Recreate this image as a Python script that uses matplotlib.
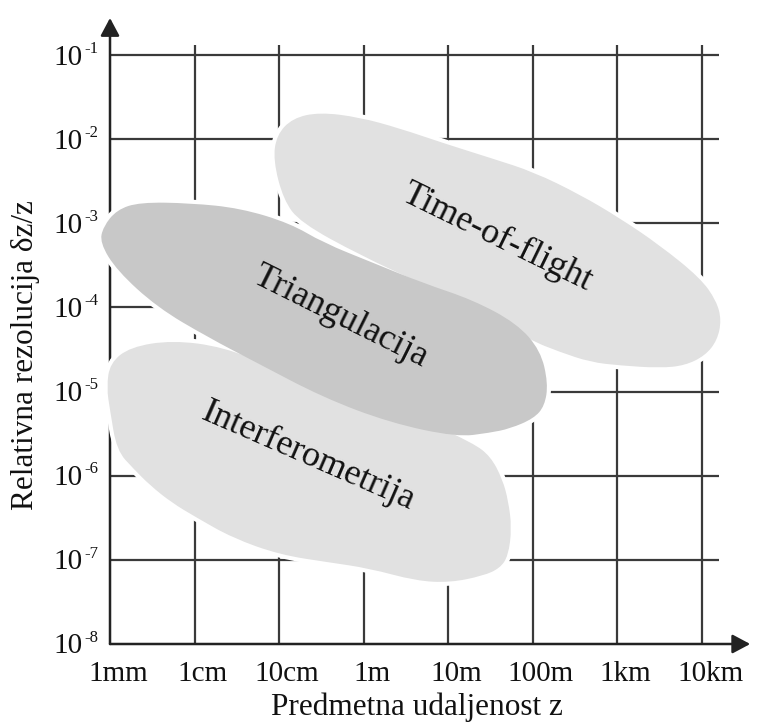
import numpy as np
import matplotlib
matplotlib.use('Agg')
import matplotlib.pyplot as plt
import matplotlib.transforms as mtransforms
from matplotlib.path import Path
from matplotlib.patches import PathPatch

plt.rcParams['font.family'] = ['Liberation Serif', 'DejaVu Serif']

# axis decades: log10 of distance in metres, log10 of relative resolution
distance_exp = np.arange(-3, 5)
distance_labels = ['1mm', '1cm', '10cm', '1m', '10m', '100m', '1km', '10km']
resolution_exp = np.arange(-8, 0)

# region outlines (log10 distance, log10 resolution)
tof_x = [-1.07, -1.03, -0.84, -0.52, -0.05, 0.42, 0.95, 1.52, 2.01, 2.56, 3.03,
         3.50, 3.98, 4.17, 4.23, 4.18, 4.04, 3.80, 3.50, 3.03, 2.68, 2.32, 1.97,
         1.38, 0.67, -0.04, -0.75, -0.95]
tof_y = [-2.25, -1.95, -1.75, -1.68, -1.74, -1.87, -2.05, -2.23, -2.39, -2.66,
         -2.94, -3.26, -3.65, -3.92, -4.15, -4.39, -4.57, -4.69, -4.72, -4.69,
         -4.65, -4.53, -4.39, -4.03, -3.71, -3.38, -2.99, -2.72]

tri_x = [-3.12, -3.08, -2.92, -2.65, -2.05, -1.46, -0.87, -0.48, 0.11, 0.70,
         1.29, 1.81, 2.09, 2.18, 2.14, 2.01, 1.73, 1.49, 1.10, 0.31, -0.48,
         -1.26, -1.85, -2.44, -2.92]
tri_y = [-3.23, -3.04, -2.84, -2.75, -2.76, -2.82, -3.00, -3.23, -3.47, -3.71,
         -3.91, -4.19, -4.51, -4.90, -5.17, -5.32, -5.44, -5.49, -5.54, -5.37,
         -5.07, -4.66, -4.35, -4.00, -3.56]

int_x = [-3.04, -3.00, -2.76, -2.26, -1.66, -1.07, -0.48, 0.11, 0.70, 1.29,
         1.50, 1.64, 1.71, 1.75, 1.71, 1.61, 1.41, 1.02, 0.62, 0.06, -0.41,
         -0.99, -1.55, -1.99, -2.27, -2.52, -2.72, -2.92, -3.00]
int_y = [-4.95, -4.66, -4.47, -4.39, -4.47, -4.71, -4.90, -5.10, -5.34, -5.61,
         -5.77, -6.04, -6.30, -6.62, -6.95, -7.10, -7.19, -7.27, -7.25, -7.10,
         -7.03, -6.94, -6.74, -6.49, -6.32, -6.12, -5.92, -5.70, -5.22]

regions = [
    ('Time-of-flight', tof_x, tof_y, '#e1e1e1', 1.58, -3.17, -26),
    ('Interferometrija', int_x, int_y, '#e1e1e1', -0.66, -5.77, -23.5),
    ('Triangulacija', tri_x, tri_y, '#c8c8c8', -0.28, -4.11, -26.5),
]


def blob_path(xs, ys):
    # closed quadratic spline through the midpoints of the outline
    pts = np.column_stack([xs, ys])
    mids = (pts + np.roll(pts, -1, axis=0)) / 2
    verts = [mids[-1]]
    codes = [Path.MOVETO]
    for i in range(len(pts)):
        verts += [pts[i], mids[i]]
        codes += [Path.CURVE3, Path.CURVE3]
    verts.append(mids[-1])
    codes.append(Path.CLOSEPOLY)
    return Path(verts, codes)


fig = plt.figure(figsize=(7.61, 7.27), dpi=100)
ax = fig.add_axes([0.14455, 0.11417, 0.8446, 0.86802])
ax.set_xlim(-3, 4.6)
ax.set_ylim(-8, -0.5)
for s in ax.spines.values():
    s.set_visible(False)

line_col = '#3a3a3a'
text_col = '#111111'
grid_x_end = 4.2
grid_y_end = -0.88

# grid
for y in resolution_exp[1:]:
    ax.plot([-3, grid_x_end], [y, y], color=line_col, lw=1.6, zorder=1,
            solid_capstyle='butt')
for x in distance_exp[1:]:
    ax.plot([x, x], [-8, grid_y_end], color=line_col, lw=1.6, zorder=1,
            solid_capstyle='butt')

# axes with arrows
arrow_style = dict(arrowstyle='-|>,head_length=0.6,head_width=0.32',
                   mutation_scale=18, color='#222222', lw=1.8,
                   shrinkA=0, shrinkB=0)
ax.annotate('', xy=(4.57, -8), xytext=(-3, -8), arrowprops=arrow_style,
            annotation_clip=False, zorder=2)
ax.annotate('', xy=(-3, -0.56), xytext=(-3, -8), arrowprops=arrow_style,
            annotation_clip=False, zorder=2)

# regions
for name, xs, ys, col, tx, ty, rot in regions:
    ax.add_patch(PathPatch(blob_path(xs, ys), fc='none', ec='white', lw=6,
                           zorder=3, clip_on=False))
for i, (name, xs, ys, col, tx, ty, rot) in enumerate(regions):
    ax.add_patch(PathPatch(blob_path(xs, ys), fc=col, ec='none', zorder=4 + i,
                           clip_on=False))
    ax.text(tx, ty, name, fontsize=26, rotation=rot, rotation_mode='anchor',
            ha='center', va='center', color=text_col, zorder=10)

# x ticks
ax.set_xticks(distance_exp)
ax.set_xticklabels(distance_labels, fontsize=21, color=text_col)
ax.set_yticks([])
ax.tick_params(length=0)
ax.tick_params(axis='x', pad=12)
shift = mtransforms.ScaledTranslation(8 / 100, 0, fig.dpi_scale_trans)
for lab in ax.get_xticklabels():
    lab.set_transform(lab.get_transform() + shift)

# y ticks: "10" with a small raised exponent
for e in resolution_exp:
    ax.annotate('10', xy=(-3, e), xytext=(-19.5, -1.8), textcoords='offset points',
                ha='right', va='center', fontsize=21, color=text_col,
                annotation_clip=False)
    ax.annotate('-%d' % abs(e), xy=(-3, e), xytext=(-18.8, 4.5),
                textcoords='offset points', ha='left', va='center',
                fontsize=12, color=text_col, annotation_clip=False)

fig.text(0.548, 0.0165, 'Predmetna udaljenost z', fontsize=22.5,
         ha='center', va='baseline', color=text_col)
fig.text(0.033, 0.512, 'Relativna rezolucija δz/z', fontsize=22.5,
         rotation=90, ha='center', va='center', color=text_col)

fig.savefig('out.png', dpi=100, facecolor='white')
